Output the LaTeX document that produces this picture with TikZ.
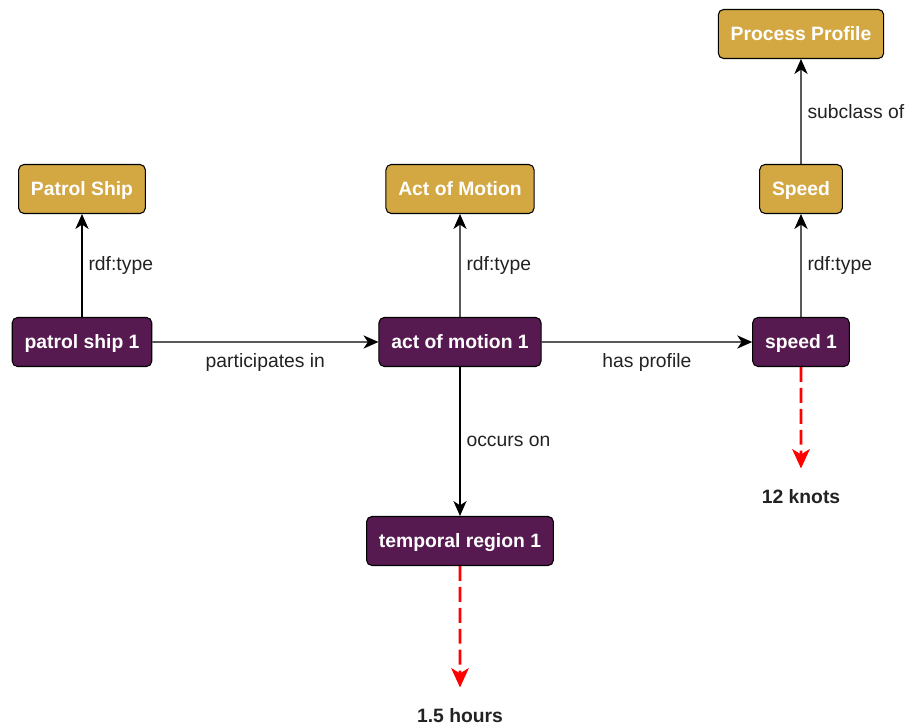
\documentclass[tikz,border=0pt]{standalone}
\usepackage{fontspec}
\setmainfont{Liberation Sans}
\usetikzlibrary{arrows.meta}

\definecolor{classgold}{RGB}{211,167,66}
\definecolor{indivpurple}{RGB}{86,26,80}
\definecolor{labelgray}{RGB}{34,34,34}

\begin{document}
\begin{tikzpicture}[scale=0.2,
		every node/.style={font=\fontsize{11}{13}\selectfont, text=labelgray},
		classbox/.style={draw=black, line width=0.6pt, rounded corners=3pt, fill=classgold,
			text=white, font=\fontsize{11}{13}\selectfont\bfseries,
			text height=0.73em, text depth=0pt, minimum height=0.98cm, inner xsep=7pt},
		indivbox/.style={classbox, fill=indivpurple},
		rel/.style={-{Stealth[length=8.5pt,width=7.5pt,inset=2.5pt]}, line width=0.8pt},
		valarrow/.style={-{Stealth[length=11pt,width=10pt,inset=3pt]}, red, line width=1.6pt,
			dash pattern=on 8.5pt off 3.4pt, shorten >=12pt},
		value/.style={font=\fontsize{11}{13}\selectfont\bfseries, inner sep=0pt}]
		\useasboundingbox (0,0) rectangle (91.3,-72.6);
		% classes
		\node [classbox] (PatrolShip) at (8.2,-18.9) {Patrol Ship};
		\node [classbox] (ActOfMotion) at (46,-18.9) {Act of Motion};
		\node [classbox] (Speed) at (80.1,-18.9) {Speed};
		\node [classbox] (ProcessProfile) at (80.1,-3.4) {Process Profile};
		% individuals
		\node [indivbox] (PatrolShip1) at (8.2,-34.2) {patrol ship 1};
		\node [indivbox] (ActOfMotion1) at (46,-34.2) {act of motion 1};
		\node [indivbox] (Speed1) at (80.1,-34.2) {speed 1};
		\node [indivbox] (TemporalRegion1) at (46,-54.1) {temporal region 1};
		% values
		\node [value] (Knots) at (80.1,-49.7) {12 knots};
		\node [value] (Hours) at (46,-71.6) {1.5 hours};
		% relations
		\draw [rel] (PatrolShip1) -- node [right] {rdf:type} (PatrolShip);
		\draw [rel] (ActOfMotion1) -- node [right] {rdf:type} (ActOfMotion);
		\draw [rel] (Speed1) -- node [right] {rdf:type} (Speed);
		\draw [rel] (Speed) -- node [right] {subclass of} (ProcessProfile);
		\draw [rel] (PatrolShip1) -- node [below=3pt] {participates in} (ActOfMotion1);
		\draw [rel] (ActOfMotion1) -- node [below=3pt] {has profile} (Speed1);
		\draw [rel] (ActOfMotion1) -- node [right] {occurs on} (TemporalRegion1);
		\draw [valarrow] (Speed1) -- (Knots);
		\draw [valarrow] (TemporalRegion1) -- (Hours);
	\end{tikzpicture}
\end{document}
